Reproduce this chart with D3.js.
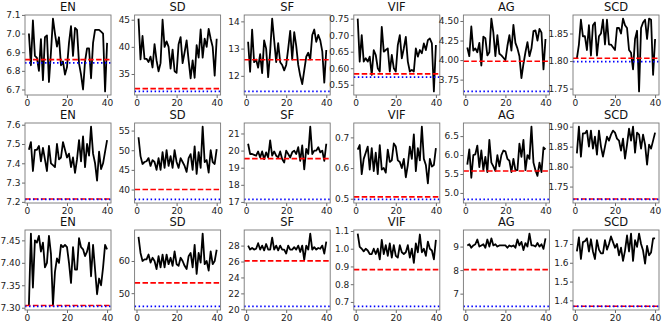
<!DOCTYPE html>
<html>
<head>
<meta charset="utf-8">
<script src="https://cdn.jsdelivr.net/npm/d3@7"></script>
<style>
  body { margin: 0; background: #fff; }
  text { font-family: "DejaVu Sans", sans-serif; }
</style>
</head>
<body>
<script>
// metric names, one per column
var titles = ["EN", "SD", "SF", "VIF", "AG", "SCD"];
var xTicks = [0, 20, 40];

// row 1
var r1EN = [7.00,6.83,7.07,6.88,6.87,6.80,6.97,6.75,6.98,6.99,6.74,6.90,7.08,7.00,6.93,6.98,6.83,6.85,6.78,6.82,6.95,7.04,6.88,7.03,7.02,6.84,6.78,6.70,6.85,6.92,6.92,6.76,6.95,7.02,7.02,7.02,7.01,7.00,6.69,6.95];
var r1SD = [45.2,37.7,42.0,37.8,37.8,37.2,38.2,36.2,40.5,37.5,35.5,37.0,45.0,40.0,41.0,40.0,36.0,39.5,35.5,35.2,40.5,41.8,37.0,39.0,41.2,37.5,34.2,37.5,34.3,40.3,38.0,43.2,38.0,41.5,40.0,43.3,41.5,40.0,34.7,41.5];
var r1SF = [13.25,12.15,13.7,12.5,12.6,12.3,12.8,12.1,13.3,13.0,11.95,12.9,14.1,13.3,12.5,13.2,12.5,12.4,12.2,12.4,13.0,13.65,12.6,13.6,13.1,12.4,12.0,11.7,12.2,12.7,12.85,12.6,13.5,13.7,13.25,13.5,13.3,12.9,11.75,12.95];
var r1VIF = [0.75,0.62,0.70,0.62,0.63,0.62,0.635,0.58,0.655,0.64,0.60,0.59,0.725,0.65,0.655,0.66,0.59,0.64,0.60,0.59,0.67,0.70,0.63,0.66,0.695,0.62,0.59,0.595,0.59,0.66,0.635,0.655,0.645,0.675,0.655,0.685,0.69,0.675,0.53,0.67];
var r1AG = [4.16,4.05,4.43,4.12,4.15,4.10,4.22,3.93,4.30,4.28,4.06,4.10,4.53,4.35,4.05,4.32,4.08,4.06,4.03,4.00,4.18,4.32,4.12,4.45,4.22,4.15,4.05,3.77,3.95,4.10,4.23,4.05,4.15,4.37,4.38,4.25,4.40,4.35,3.88,4.27];
var r1SCD = [1.805,1.83,1.875,1.845,1.845,1.82,1.865,1.81,1.865,1.87,1.81,1.845,1.85,1.875,1.83,1.875,1.83,1.83,1.825,1.82,1.86,1.86,1.85,1.877,1.865,1.86,1.82,1.815,1.785,1.84,1.855,1.745,1.86,1.87,1.875,1.84,1.877,1.875,1.775,1.84];

// row 2
var r2EN = [7.47,7.51,7.36,7.47,7.47,7.49,7.41,7.48,7.42,7.36,7.49,7.40,7.39,7.38,7.50,7.42,7.43,7.51,7.47,7.43,7.45,7.38,7.43,7.35,7.42,7.52,7.41,7.54,7.38,7.50,7.44,7.59,7.45,7.40,7.31,7.46,7.37,7.40,7.46,7.52];
var r2SD = [53.3,48.5,46.5,47.0,47.2,48.0,46.0,47.5,47.0,45.0,48.0,45.0,49.5,45.5,50.0,46.0,48.5,45.5,50.0,47.0,45.5,48.0,47.0,46.0,44.5,48.0,49.0,45.0,51.0,44.0,49.5,45.5,56.0,47.0,47.5,44.3,50.0,47.0,46.5,50.3];
var r2SF = [20.4,19.8,19.8,19.75,19.7,19.95,19.6,19.95,19.5,19.9,19.6,20.6,19.7,19.95,19.7,19.6,19.95,19.5,19.3,20.0,19.8,19.6,19.9,20.0,19.8,20.2,19.4,20.3,18.9,20.1,19.8,21.4,19.8,20.0,20.0,20.2,19.9,20.0,19.4,20.4];
var r2VIF = [0.66,0.675,0.58,0.63,0.65,0.67,0.595,0.665,0.59,0.65,0.58,0.675,0.595,0.60,0.585,0.66,0.62,0.625,0.68,0.67,0.625,0.62,0.60,0.63,0.57,0.61,0.67,0.63,0.71,0.59,0.665,0.625,0.735,0.63,0.61,0.55,0.63,0.605,0.61,0.665];
var r2AG = [5.75,6.15,5.40,6.00,6.02,6.25,5.68,6.12,5.60,5.95,5.55,6.40,5.80,5.70,5.58,6.00,5.70,6.00,6.12,6.10,5.90,5.85,5.55,5.90,5.60,5.60,6.30,5.95,6.40,5.60,6.00,5.90,6.75,5.80,5.60,5.45,5.80,5.55,6.20,6.15];
var r2SCD = [1.833,1.90,1.825,1.883,1.883,1.89,1.85,1.89,1.845,1.875,1.83,1.89,1.85,1.825,1.85,1.875,1.865,1.88,1.89,1.885,1.87,1.865,1.84,1.87,1.82,1.855,1.895,1.865,1.90,1.835,1.885,1.88,1.845,1.88,1.855,1.805,1.855,1.845,1.865,1.885];

// row 3
var r3EN = [7.305,7.465,7.345,7.45,7.445,7.46,7.425,7.445,7.39,7.40,7.46,7.42,7.305,7.38,7.41,7.40,7.44,7.435,7.44,7.435,7.40,7.355,7.435,7.385,7.385,7.455,7.435,7.43,7.415,7.425,7.445,7.37,7.44,7.385,7.33,7.365,7.35,7.39,7.44,7.43];
var r3SD = [67.5,62.5,60.0,60.5,60.5,62.0,59.5,61.0,60.0,57.5,61.5,58.0,62.0,58.0,62.0,59.0,61.0,58.5,63.0,59.0,58.5,61.0,60.0,58.5,57.5,61.5,62.5,58.0,65.0,56.0,62.5,59.5,68.5,59.0,60.0,57.0,63.0,59.0,60.0,63.5];
var r3SF = [28.0,27.5,27.7,27.5,27.6,28.3,27.5,28.0,27.4,28.2,27.5,27.5,29.0,27.5,28.0,27.4,28.0,27.5,27.5,27.0,28.0,27.5,27.5,27.8,27.5,28.0,27.2,28.0,26.2,28.0,27.5,29.5,27.5,27.8,27.5,27.7,27.6,28.0,27.0,28.5];
var r3VIF = [1.085,1.01,1.00,0.985,1.00,0.99,0.97,0.97,1.00,0.97,1.00,0.94,1.05,0.97,1.02,0.96,1.03,0.95,1.02,0.96,0.95,1.02,0.98,0.97,0.98,1.02,0.95,1.00,0.92,1.03,0.98,1.08,0.98,1.00,0.96,1.04,1.00,0.99,0.94,1.05];
var r3AG = [9.05,9.10,8.95,9.05,9.10,9.30,9.00,9.05,9.10,8.95,9.30,9.00,9.35,9.05,9.10,9.00,9.05,9.05,9.05,9.05,8.95,9.05,9.00,9.05,8.95,9.30,9.05,9.20,8.85,9.15,9.00,9.55,9.05,9.05,9.00,9.15,9.00,9.10,8.90,9.35];
var r3SCD = [1.66,1.735,1.62,1.71,1.715,1.73,1.66,1.725,1.66,1.62,1.72,1.67,1.65,1.65,1.72,1.67,1.70,1.74,1.71,1.68,1.70,1.64,1.68,1.61,1.665,1.745,1.66,1.755,1.61,1.72,1.685,1.755,1.70,1.665,1.595,1.69,1.64,1.655,1.73,1.73];

// horizontal reference levels (red dashed / blue dotted), per row
var redLines  = [[6.86, 32.3, 12.59, 0.583, 3.985, 1.805],
                 [7.215, 40.0, 19.53, 0.506, 5.58, 1.719],
                 [7.305, 53.2, 26.08, 0.882, 8.02, 1.369]];
var blueLines = [[6.843, 31.8, 11.43, 0.573, 3.60, 1.799],
                 [7.213, 37.5, 17.15, 0.498, 4.83, 1.718],
                 [7.303, 45.9, 20.37, 0.675, 6.46, 1.368]];

// y tick values per row
var yTicks = [
  [[6.7,6.8,6.9,7.0,7.1], [35,40,45], [12,13,14], [0.55,0.60,0.65,0.70,0.75], [3.75,4.00,4.25,4.50], [1.75,1.80,1.85]],
  [[7.2,7.3,7.4,7.5,7.6], [40,45,50,55], [17,18,19,20,21], [0.5,0.6,0.7], [5.0,5.5,6.0,6.5], [1.75,1.80,1.85,1.90]],
  [[7.30,7.35,7.40,7.45], [50,60], [20,22,24,26,28], [0.7,0.8,0.9,1.0,1.1], [7,8,9], [1.4,1.5,1.6,1.7]]
];
var yFormats = [
  [".1f", "d", "d", ".2f", ".2f", ".2f"],
  [".1f", "d", "d", ".1f", ".1f", ".2f"],
  [".2f", "d", "d", ".1f", "d", ".1f"]
];

var series = [
  [r1EN, r1SD, r1SF, r1VIF, r1AG, r1SCD],
  [r2EN, r2SD, r2SF, r2VIF, r2AG, r2SCD],
  [r3EN, r3SD, r3SF, r3VIF, r3AG, r3SCD]
];

var W = 665, H = 328;
var pw = 86, ph = 80;
var lefts = [25, 134.6, 244.2, 353.8, 463.4, 573];
var tops = [15, 123, 230];

var svg = d3.select("body").append("svg")
    .attr("width", W)
    .attr("height", H);

series.forEach(function(row, r) {
  row.forEach(function(vals, c) {
    var g = svg.append("g")
        .attr("transform", "translate(" + lefts[c] + "," + tops[r] + ")");

    var xs = vals.map(function(d, i) { return i + 1; });
    var xPad = (40 - 1) * 0.05;
    var x = d3.scaleLinear().domain([1 - xPad, 40 + xPad]).range([0, pw]);

    var all = vals.concat([redLines[r][c], blueLines[r][c]]);
    var lo = d3.min(all), hi = d3.max(all), pad = (hi - lo) * 0.05;
    var y = d3.scaleLinear().domain([lo - pad, hi + pad]).range([ph, 0]);

    var xAxis = g.append("g")
        .attr("transform", "translate(0," + ph + ")")
        .call(d3.axisBottom(x).tickValues(xTicks).tickSize(3).tickPadding(1.5));
    var yAxis = g.append("g")
        .call(d3.axisLeft(y).tickValues(yTicks[r][c]).tickFormat(d3.format(yFormats[r][c])).tickSize(3).tickPadding(1.5));
    [xAxis, yAxis].forEach(function(a) {
      a.select(".domain").remove();
      a.selectAll(".tick line").attr("stroke", "#444").attr("stroke-width", 0.8);
      a.selectAll(".tick text").attr("fill", "#222").style("font-size", "9px");
    });

    var line = d3.line()
        .x(function(d, i) { return x(xs[i]); })
        .y(function(d) { return y(d); });

    g.append("path")
        .datum(vals)
        .attr("fill", "none")
        .attr("stroke", "#000")
        .attr("stroke-width", 1.8)
        .attr("stroke-linejoin", "round")
        .attr("d", line);

    g.append("line")
        .attr("x1", 0).attr("x2", pw)
        .attr("y1", y(redLines[r][c])).attr("y2", y(redLines[r][c]))
        .attr("stroke", "red")
        .attr("stroke-width", 1.6)
        .attr("stroke-dasharray", "5.5,2.4");

    g.append("line")
        .attr("x1", 0).attr("x2", pw)
        .attr("y1", y(blueLines[r][c])).attr("y2", y(blueLines[r][c]))
        .attr("stroke", "blue")
        .attr("stroke-width", 1.6)
        .attr("stroke-dasharray", "1.5,2.5");

    g.append("rect")
        .attr("width", pw).attr("height", ph)
        .attr("fill", "none")
        .attr("stroke", "#777")
        .attr("stroke-width", 0.9);

    g.append("text")
        .attr("x", pw / 2)
        .attr("y", -4)
        .attr("text-anchor", "middle")
        .attr("fill", "#111")
        .style("font-size", "11.5px")
        .text(titles[c]);
  });
});
</script>
</body>
</html>
